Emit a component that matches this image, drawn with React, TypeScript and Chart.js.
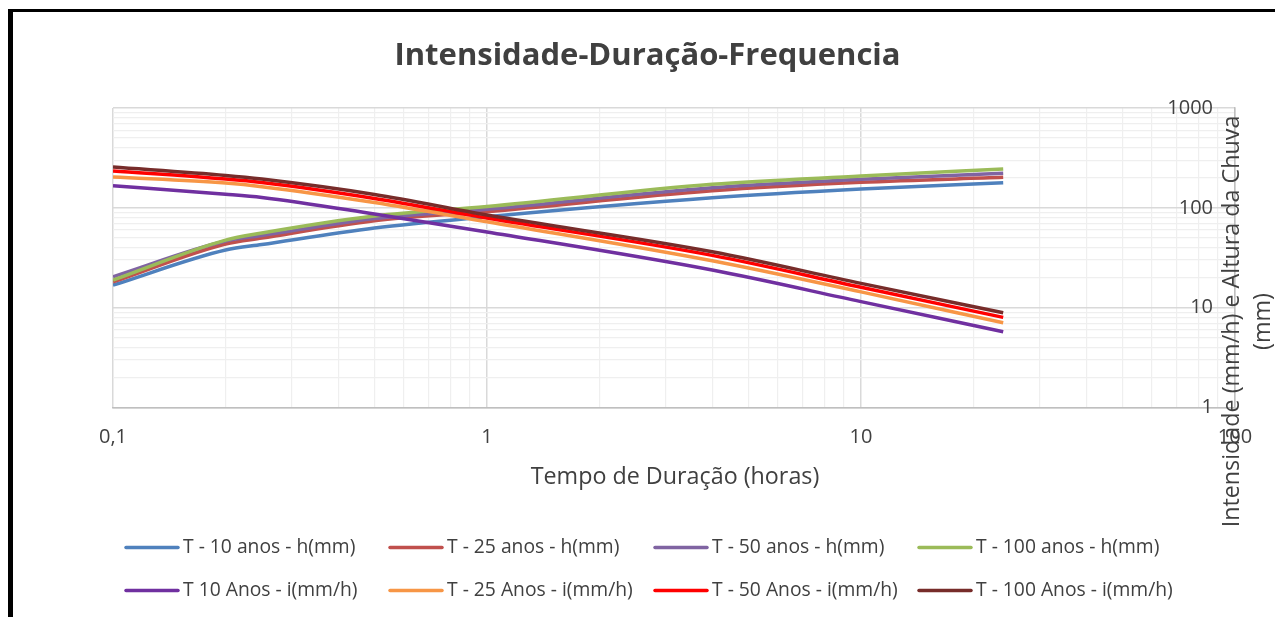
import { useEffect, useRef } from 'react';
import { Chart, registerables } from 'chart.js';

Chart.register(...registerables);

const TITLE = 'Intensidade-Duração-Frequencia';
const X_TITLE = 'Tempo de Duração (horas)';
const Y_TITLE_LINES = ['Intensidade (mm/h) e Altura da Chuva', '(mm)'];

// durations (hours)
const DURATIONS = [0.1, 0.2, 0.25, 0.5, 1, 4, 10, 24];

// rainfall height h (mm)
const H_T10 = [16.8, 37.8, 42.9, 62.8, 81.4, 126, 154, 178];
const H_T25 = [18.1, 43.4, 49.8, 74.3, 91.5, 148, 180, 202];
const H_T50 = [20.4, 46.5, 52.8, 78.2, 96.6, 159, 193, 222];
const H_T100 = [18.9, 47.5, 55.9, 82.8, 103, 172, 208, 245];

// intensity i (mm/h)
const I_T10 = [166, 137, 127, 86.7, 57.3, 23.8, 11.5, 5.74];
const I_T25 = [204, 177, 163, 113, 72.6, 29.5, 14.4, 7.06];
const I_T50 = [234, 194, 179, 124, 79, 33.4, 16.0, 8.0];
const I_T100 = [256, 211, 194, 136, 84.7, 36.3, 17.5, 8.9];

const SERIES_VALUES = [H_T10, H_T25, H_T50, H_T100, I_T10, I_T25, I_T50, I_T100];
const SERIES_LABELS = [
  'T - 10 anos - h(mm)',
  'T - 25 anos - h(mm)',
  'T - 50 anos - h(mm)',
  'T - 100 anos - h(mm)',
  'T 10 Anos - i(mm/h)',
  'T - 25 Anos - i(mm/h)',
  'T - 50 Anos - i(mm/h)',
  'T - 100 Anos - i(mm/h)',
];
const SERIES_COLORS = [
  '#4F81BD',
  '#C0504D',
  '#8064A2',
  '#9BBB59',
  '#7030A0',
  '#F79646',
  '#FF0000',
  '#772C2A',
];

const X_DECADES = [0.1, 1, 10, 100];
const X_TICK_LABELS = ['0,1', '1', '10', '100'];
const Y_DECADES = [1, 10, 100, 1000];
const Y_TICK_LABELS = ['1', '10', '100', '1000'];
const MINOR_STEPS = [1, 2, 3, 4, 5, 6, 7, 8, 9];

const FONT = '"Open Sans", "Noto Sans", sans-serif';
const TEXT_COLOR = '#404040';

function buildLogTicks(decades: number[]) {
  const out: { value: number; major: boolean }[] = [];
  for (let d = 0; d < decades.length - 1; d++) {
    for (const m of MINOR_STEPS) {
      out.push({ value: Number((decades[d] * m).toPrecision(8)), major: m === 1 });
    }
  }
  out.push({ value: decades[decades.length - 1], major: true });
  return out;
}

function labelFor(value: number, decades: number[], labels: string[]) {
  const i = decades.findIndex((d) => Math.abs(d - value) < d * 1e-6);
  return i >= 0 ? labels[i] : '';
}

const LEGEND_COL_X = [126, 390, 655, 919];
const LEGEND_ROW_Y = [547.5, 590.5];

const decorPlugin = {
  id: 'decor',
  afterDraw(chart: any) {
    const ctx = chart.ctx as CanvasRenderingContext2D;
    ctx.save();
    // frame
    ctx.fillStyle = '#000';
    ctx.fillRect(8, 9, 1267, 3);
    ctx.fillRect(8, 9, 5, 608);

    ctx.fillStyle = TEXT_COLOR;
    ctx.textAlign = 'center';
    ctx.textBaseline = 'middle';
    ctx.font = `bold 31px ${FONT}`;
    ctx.fillText(TITLE, 647.5, 56);

    ctx.font = `23.3px ${FONT}`;
    ctx.fillText(X_TITLE, 675, 477);

    ctx.save();
    ctx.translate(1232, 321.5);
    ctx.rotate(-Math.PI / 2);
    ctx.fillText(Y_TITLE_LINES[0], 0, 0);
    ctx.restore();
    ctx.save();
    ctx.translate(1263, 321.5);
    ctx.rotate(-Math.PI / 2);
    ctx.fillText(Y_TITLE_LINES[1], 0, 0);
    ctx.restore();

    // legend
    ctx.font = `19.3px ${FONT}`;
    ctx.textAlign = 'left';
    ctx.lineCap = 'round';
    chart.data.datasets.forEach((ds: any, i: number) => {
      const col = i % 4;
      const row = Math.floor(i / 4);
      const x = LEGEND_COL_X[col];
      const y = LEGEND_ROW_Y[row];
      ctx.strokeStyle = ds.borderColor;
      ctx.lineWidth = 3.5;
      ctx.beginPath();
      ctx.moveTo(x, y);
      ctx.lineTo(x + 52, y);
      ctx.stroke();
      ctx.fillStyle = TEXT_COLOR;
      ctx.fillText(ds.label, x + 57, y);
    });
    ctx.restore();
  },
};

export default function App() {
  const ref = useRef<HTMLCanvasElement | null>(null);

  useEffect(() => {
    if (!ref.current) return;
    const datasets = SERIES_VALUES.map((vals, i) => ({
      label: SERIES_LABELS[i],
      data: DURATIONS.map((x, j) => ({ x, y: vals[j] })),
      borderColor: SERIES_COLORS[i],
      backgroundColor: SERIES_COLORS[i],
      borderWidth: 3.5,
      pointRadius: 0,
      fill: false,
      cubicInterpolationMode: 'monotone' as const,
      order: -i,
    }));

    const chart = new Chart(ref.current, {
      type: 'line',
      data: { datasets },
      options: {
        animation: false,
        responsive: false,
        maintainAspectRatio: false,
        devicePixelRatio: 1,
        events: [],
        layout: { padding: { left: 113, top: 108, right: 40, bottom: 617 - 407.5 - 50 } },
        plugins: {
          legend: { display: false },
          tooltip: { enabled: false },
          title: { display: false },
        },
        scales: {
          x: {
            type: 'logarithmic',
            position: 'bottom',
            min: 0.1,
            max: 100,
            afterBuildTicks: (s: any) => {
              s.ticks = buildLogTicks(X_DECADES);
            },
            afterFit: (s: any) => {
              s.height = 50;
            },
            ticks: {
              autoSkip: false,
              maxRotation: 0,
              minRotation: 0,
              padding: 18,
              color: TEXT_COLOR,
              font: { family: FONT, size: 20 },
              callback: (v: any) => labelFor(Number(v), X_DECADES, X_TICK_LABELS),
            },
            grid: {
              drawTicks: false,
              color: (c: any) => (c.tick && c.tick.major ? '#d9d9d9' : '#efefef'),
              lineWidth: (c: any) => (c.tick && c.tick.major ? 1.5 : 1.2),
            },
            border: { display: true, color: '#bfbfbf', width: 1.5 },
          },
          y: {
            type: 'logarithmic',
            position: 'right',
            min: 1,
            max: 1000,
            afterBuildTicks: (s: any) => {
              s.ticks = buildLogTicks(Y_DECADES);
            },
            afterFit: (s: any) => {
              s.width = 0;
            },
            ticks: {
              autoSkip: false,
              mirror: true,
              padding: -22,
              color: TEXT_COLOR,
              font: { family: FONT, size: 20 },
              callback: (v: any) => labelFor(Number(v), Y_DECADES, Y_TICK_LABELS),
            },
            grid: {
              drawTicks: false,
              color: (c: any) => (c.tick && c.tick.major ? '#d9d9d9' : '#efefef'),
              lineWidth: (c: any) => (c.tick && c.tick.major ? 1.5 : 1.2),
            },
            border: { display: true, color: '#bfbfbf', width: 1.5 },
          },
        },
      },
      plugins: [decorPlugin],
    });
    return () => chart.destroy();
  }, []);

  return (
    <div style={{ position: 'fixed', left: 0, top: 0, width: 1275, height: 617, background: '#fff' }}>
      <canvas ref={ref} width={1275} height={617} style={{ display: 'block' }} />
    </div>
  );
}
